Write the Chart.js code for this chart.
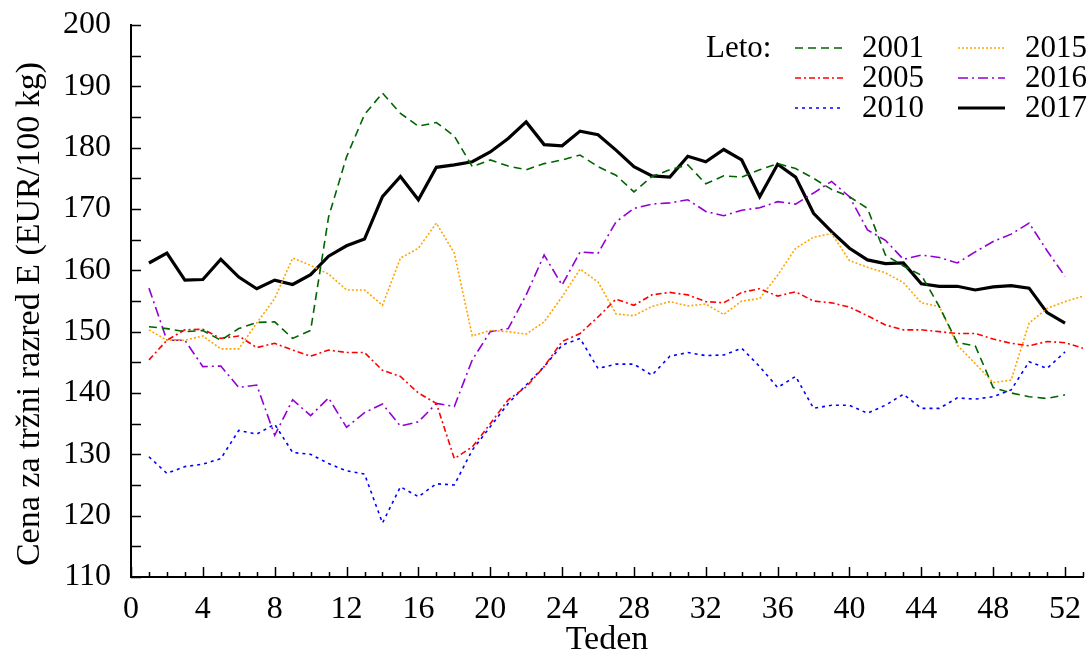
<!DOCTYPE html>
<html>
<head>
<meta charset="utf-8">
<script src="https://cdn.jsdelivr.net/npm/chart.js@4.4.0/dist/chart.umd.min.js"></script>
<style>
  html, body { margin: 0; padding: 0; background: #fff; }
  #wrap { width: 1091px; height: 656px; }
</style>
</head>
<body>
<div id="wrap"><canvas id="priceChart"></canvas></div>
<script>
// weekly prices, week 1 onwards
const price2001 = [150.8, 150.5, 150.0, 150.2, 148.6, 150.5, 151.5, 151.6, 148.9, 150.2,
  168.7, 178.5, 185.4, 188.9, 185.6, 183.5, 184.1, 181.9, 176.9, 178.0,
  177.0, 176.4, 177.4, 178.0, 178.8, 176.9, 175.5, 172.8, 175.3, 176.4,
  177.2, 174.1, 175.4, 175.2, 176.4, 177.4, 176.6, 175.0, 173.2, 172.0,
  170.1, 162.5, 160.7, 159.2, 154.1, 148.2, 147.7, 140.9, 140.0, 139.4, 139.1, 139.7];
const price2005 = [145.4, 148.6, 150.3, 150.4, 148.9, 149.3, 147.4, 148.1, 147.0, 146.0,
  147.0, 146.6, 146.6, 143.7, 142.7, 140.0, 138.3, 129.3, 131.2, 135.0,
  138.9, 141.0, 144.3, 148.4, 149.7, 152.4, 155.3, 154.3, 156.0, 156.4,
  156.0, 154.9, 154.7, 156.4, 157.0, 155.8, 156.5, 155.0, 154.7, 154.0,
  152.6, 151.1, 150.3, 150.3, 150.0, 149.7, 149.7, 148.8, 148.1, 147.7, 148.4, 148.2, 147.3];
const price2010 = [129.6, 126.9, 128.0, 128.4, 129.3, 133.9, 133.3, 134.9, 130.3, 130.0,
  128.5, 127.3, 126.8, 118.8, 124.7, 123.1, 125.2, 125.0, 130.7, 134.5,
  138.3, 141.3, 144.3, 147.8, 148.9, 144.0, 144.7, 144.7, 142.9, 146.0,
  146.6, 146.1, 146.2, 147.3, 144.3, 140.9, 142.7, 137.5, 138.0, 138.0,
  136.7, 138.0, 139.8, 137.5, 137.5, 139.2, 139.0, 139.4, 140.5, 145.1, 144.0, 146.7];
const price2015 = [150.3, 148.6, 148.6, 149.3, 147.2, 147.2, 151.4, 155.4, 162.0, 160.8,
  159.4, 156.8, 156.8, 154.3, 162.0, 163.6, 167.7, 162.8, 149.3, 150.2,
  150.0, 149.6, 151.6, 155.7, 160.2, 158.1, 152.9, 152.6, 154.1, 154.9,
  154.2, 154.5, 152.8, 155.0, 155.4, 159.2, 163.6, 165.4, 166.0, 161.6,
  160.5, 159.6, 158.0, 154.7, 154.1, 147.8, 144.8, 141.7, 142.1, 151.4, 153.8, 154.9, 155.8];
const price2016 = [157.1, 148.6, 148.6, 144.3, 144.4, 140.9, 141.3, 133.1, 138.9, 136.3,
  139.2, 134.4, 136.8, 138.2, 134.6, 135.3, 138.3, 137.8, 145.4, 150.0,
  150.5, 156.0, 162.5, 157.6, 163.0, 162.8, 167.9, 170.1, 170.8, 171.0,
  171.5, 169.6, 168.9, 169.8, 170.2, 171.2, 170.8, 172.6, 174.5, 172.0,
  166.6, 164.9, 161.8, 162.5, 162.1, 161.2, 163.0, 164.7, 165.9, 167.7, 163.2, 159.0];
const price2017 = [161.2, 162.8, 158.4, 158.5, 161.8, 158.9, 157.0, 158.4, 157.7, 159.3,
  162.3, 164.0, 165.1, 172.0, 175.3, 171.5, 176.8, 177.2, 177.7, 179.3,
  181.5, 184.2, 180.5, 180.3, 182.7, 182.1, 179.6, 176.9, 175.4, 175.2,
  178.6, 177.7, 179.7, 178.0, 172.0, 177.3, 175.2, 169.3, 166.3, 163.6,
  161.7, 161.1, 161.2, 157.8, 157.4, 157.4, 156.8, 157.3, 157.5, 157.1, 153.1, 151.4];

const years = ['2001', '2005', '2010', '2015', '2016', '2017'];
const xTickLabels = [0, 4, 8, 12, 16, 20, 24, 28, 32, 36, 40, 44, 48, 52];
const yTickLabels = [110, 120, 130, 140, 150, 160, 170, 180, 190, 200];

const FONT = '"Liberation Serif", "Times New Roman", serif';

function toPoints(values) {
  return values.map((v, i) => ({ x: i + 1, y: v }));
}

function makeDataset(label, values, color, dash, width) {
  return {
    label: label,
    data: toPoints(values),
    borderColor: color,
    backgroundColor: color,
    borderDash: dash,
    borderWidth: width,
    pointRadius: 0,
    tension: 0,
    fill: false
  };
}

const datasets = [
  makeDataset(years[0], price2001, '#006400', [8, 5], 1.6),
  makeDataset(years[1], price2005, '#ff0000', [6, 3, 2, 3], 1.6),
  makeDataset(years[2], price2010, '#0000ff', [3, 4], 1.6),
  makeDataset(years[3], price2015, '#ffa500', [2, 2], 1.6),
  makeDataset(years[4], price2016, '#9400d3', [10, 4, 2, 4], 1.6),
  makeDataset(years[5], price2017, '#000000', [], 3.2)
];

// ticks pointing into the plot, axis titles and the "Leto:" legend
const decorPlugin = {
  id: 'decor',
  afterDatasetsDraw(chart) {
    const ctx = chart.ctx;
    const area = chart.chartArea;
    const xs = chart.scales.x;
    const ys = chart.scales.y;

    ctx.save();
    ctx.strokeStyle = '#000';
    ctx.lineWidth = 1.5;
    ctx.setLineDash([]);
    ctx.beginPath();
    for (let v = 110; v <= 200; v += 5) {
      const y = Math.round(ys.getPixelForValue(v)) + 0.5;
      ctx.moveTo(area.left, y);
      ctx.lineTo(area.left + 10, y);
    }
    for (let w = 0; w <= 53; w++) {
      const x = Math.round(xs.getPixelForValue(w)) + 0.5;
      const len = w % 4 === 0 ? 10 : 5;
      ctx.moveTo(x, area.bottom);
      ctx.lineTo(x, area.bottom - len);
    }
    ctx.stroke();

    // legend
    ctx.fillStyle = '#000';
    ctx.font = '31px ' + FONT;
    ctx.textBaseline = 'middle';
    ctx.textAlign = 'left';
    ctx.fillText('Leto:', 706, 49);
    const rows = [48, 78, 108];
    const cols = [{ x1: 795, x2: 843, tx: 862 }, { x1: 958, x2: 1005, tx: 1025 }];
    chart.data.datasets.forEach((ds, i) => {
      const c = cols[Math.floor(i / 3)];
      const y = rows[i % 3];
      ctx.strokeStyle = ds.borderColor;
      ctx.lineWidth = ds.borderWidth;
      ctx.setLineDash(ds.borderDash);
      ctx.beginPath();
      ctx.moveTo(c.x1, y);
      ctx.lineTo(c.x2, y);
      ctx.stroke();
      ctx.fillText(ds.label, c.tx, y + 1);
    });

    // axis titles
    ctx.setLineDash([]);
    ctx.font = '34px ' + FONT;
    ctx.textAlign = 'center';
    ctx.fillText('Teden', (area.left + area.right) / 2, 640);
    ctx.translate(30, 314);
    ctx.rotate(-Math.PI / 2);
    ctx.fillText('Cena za tržni razred E (EUR/100 kg)', 0, 0);
    ctx.restore();
  }
};

new Chart(document.getElementById('priceChart').getContext('2d'), {
  type: 'line',
  data: { datasets: datasets },
  options: {
    responsive: true,
    maintainAspectRatio: false,
    animation: false,
    layout: { padding: { left: 0, right: 8, top: 25, bottom: 0 } },
    plugins: { legend: { display: false }, tooltip: { enabled: false } },
    scales: {
      x: {
        type: 'linear',
        min: 0,
        max: 53,
        grid: { display: false, drawTicks: false },
        border: { display: true, color: '#000', width: 2 },
        afterFit: scale => {
          scale.height = 79;
          scale.paddingLeft = 0;
          scale.paddingRight = 0;
        },
        ticks: {
          stepSize: 1,
          autoSkip: false,
          maxRotation: 0,
          padding: 13,
          color: '#000',
          font: { family: FONT, size: 32 },
          callback: value => xTickLabels.includes(value) ? String(value) : ''
        }
      },
      y: {
        min: 110,
        max: 200,
        grid: { display: false, drawTicks: false },
        border: { display: true, color: '#000', width: 2 },
        afterFit: scale => {
          scale.width = 131;
          scale.paddingTop = 0;
          scale.paddingBottom = 0;
        },
        ticks: {
          stepSize: 5,
          padding: 20,
          color: '#000',
          font: { family: FONT, size: 32 },
          callback: value => yTickLabels.includes(value) ? String(value) : ''
        }
      }
    }
  },
  plugins: [decorPlugin]
});
</script>
</body>
</html>
